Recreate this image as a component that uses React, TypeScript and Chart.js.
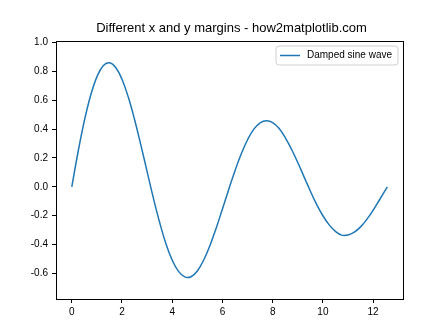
import React, { useEffect, useRef } from "react";
import { Chart, registerables } from "chart.js";

Chart.register(...registerables);

const titleText = "Different x and y margins - how2matplotlib.com";
const seriesLabel = "Damped sine wave";
const xValues = [
  0, 0.25, 0.5, 0.75, 1, 1.25, 1.5, 1.75, 2, 2.25, 2.5, 2.75, 3, 3.25, 3.5, 3.75, 4, 4.25, 4.5, 4.75,
  5, 5.25, 5.5, 5.75, 6, 6.25, 6.5, 6.75, 7, 7.25, 7.5, 7.75, 8, 8.25, 8.5, 8.75, 9, 9.25, 9.5, 9.75,
  10, 10.25, 10.5, 10.75, 11, 11.25, 11.5, 11.75, 12, 12.25, 12.566,
];
const yValues = [
  0, 0.241, 0.456, 0.632, 0.761, 0.838, 0.859, 0.826, 0.744, 0.621, 0.466, 0.29, 0.105, -0.078, -0.247, -0.393, -0.507, -0.585, -0.623, -0.622,
  -0.582, -0.508, -0.407, -0.286, -0.153, -0.018, 0.112, 0.229, 0.326, 0.399, 0.443, 0.458, 0.445, 0.405, 0.341, 0.26, 0.168, 0.069, -0.029, -0.121,
  -0.2, -0.263, -0.308, -0.334, -0.333, -0.314, -0.277, -0.225, -0.162, -0.091, 0,
];
const xTicks = [0, 2, 4, 6, 8, 10, 12];
const yTicks = [-0.6, -0.4, -0.2, 0.0, 0.2, 0.4, 0.6, 0.8, 1.0];
const xRange = [-0.628, 13.19];
const yRange = [-0.776, 1.009];

const FONT = "'Liberation Sans', Arial, sans-serif";
const LINE_COLOR = "#1f77b4";

export default function App() {
  const ref = useRef<HTMLCanvasElement | null>(null);
  useEffect(() => {
    if (!ref.current) return;
    const framePlugin = {
      id: "frame",
      afterDraw(chart: any) {
        const { ctx, chartArea } = chart;
        const { left, top, right, bottom } = chartArea;
        ctx.save();
        ctx.strokeStyle = "#000";
        ctx.lineWidth = 1;
        ctx.strokeRect(Math.round(left) + 0.5, Math.round(top) + 0.5, Math.round(right - left), Math.round(bottom - top));
        // title
        ctx.fillStyle = "#000";
        ctx.font = `13px ${FONT}`;
        ctx.textAlign = "center";
        ctx.textBaseline = "middle";
        ctx.fillText(titleText, (left + right) / 2 + 2, 28);
        // legend
        const lx = 276, ly = 46, lw = 122, lh = 19, r = 3;
        ctx.beginPath();
        ctx.moveTo(lx + r, ly);
        ctx.lineTo(lx + lw - r, ly);
        ctx.quadraticCurveTo(lx + lw, ly, lx + lw, ly + r);
        ctx.lineTo(lx + lw, ly + lh - r);
        ctx.quadraticCurveTo(lx + lw, ly + lh, lx + lw - r, ly + lh);
        ctx.lineTo(lx + r, ly + lh);
        ctx.quadraticCurveTo(lx, ly + lh, lx, ly + lh - r);
        ctx.lineTo(lx, ly + r);
        ctx.quadraticCurveTo(lx, ly, lx + r, ly);
        ctx.closePath();
        ctx.fillStyle = "rgba(255,255,255,0.8)";
        ctx.fill();
        ctx.strokeStyle = "#d0d0d0";
        ctx.lineWidth = 1;
        ctx.stroke();
        ctx.beginPath();
        ctx.strokeStyle = LINE_COLOR;
        ctx.lineWidth = 1.5;
        ctx.moveTo(280, ly + lh / 2);
        ctx.lineTo(300, ly + lh / 2);
        ctx.stroke();
        ctx.fillStyle = "#000";
        ctx.font = `10px ${FONT}`;
        ctx.textAlign = "left";
        ctx.textBaseline = "middle";
        ctx.fillText(seriesLabel, 307, ly + lh / 2);
        ctx.restore();
      },
    };
    const chart = new Chart(ref.current, {
      type: "line",
      data: {
        datasets: [
          {
            label: seriesLabel,
            data: xValues.map((x, i) => ({ x, y: yValues[i] })),
            borderColor: LINE_COLOR,
            borderWidth: 1.5,
            pointRadius: 0,
            tension: 0.4,
            fill: false,
          },
        ],
      },
      options: {
        animation: false,
        responsive: false,
        maintainAspectRatio: false,
        layout: { padding: { top: 41, right: 45, left: 0, bottom: 0 } },
        plugins: { legend: { display: false }, title: { display: false }, tooltip: { enabled: false } },
        scales: {
          x: {
            type: "linear",
            min: xRange[0],
            max: xRange[1],
            afterBuildTicks: (axis: any) => {
              axis.ticks = xTicks.map((v) => ({ value: v }));
            },
            afterFit: (axis: any) => {
              axis.height = 37;
            },
            grid: { drawOnChartArea: false, drawTicks: true, tickLength: 4, color: "#000", tickWidth: 1 },
            border: { display: false },
            ticks: {
              color: "#000",
              font: { family: FONT, size: 10 },
              padding: 3,
              maxRotation: 0,
              callback: (v: any) => String(v),
            },
          },
          y: {
            type: "linear",
            min: yRange[0],
            max: yRange[1],
            afterBuildTicks: (axis: any) => {
              axis.ticks = yTicks.map((v) => ({ value: v }));
            },
            afterFit: (axis: any) => {
              axis.width = 56;
            },
            grid: { drawOnChartArea: false, drawTicks: true, tickLength: 4, color: "#000", tickWidth: 1 },
            border: { display: false },
            ticks: {
              color: "#000",
              font: { family: FONT, size: 10 },
              padding: 4,
              callback: (v: any) => Number(v).toFixed(1),
            },
          },
        },
      },
      plugins: [framePlugin],
    });
    return () => chart.destroy();
  }, []);
  return (
    <div style={{ position: "absolute", left: 0, top: 0, width: 448, height: 336, background: "#fff" }}>
      <canvas ref={ref} width={448} height={336} style={{ width: 448, height: 336 }} />
    </div>
  );
}
